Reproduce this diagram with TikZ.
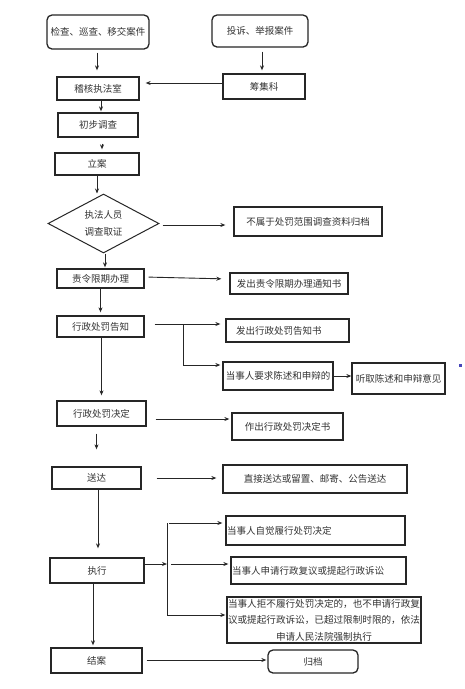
\documentclass[tikz,border=0pt]{standalone}
\usepackage{fontspec}
\newfontfamily\cjk{Noto Sans CJK SC}
\usetikzlibrary{arrows.meta,shapes.geometric,calc}
\begin{document}
\begin{tikzpicture}[x=1pt,y=-1pt,
 box/.style={draw=black!85,line width=1.3pt,inner sep=1pt,font=\cjk\fontsize{9.5}{11}\selectfont,text=black!80},
 rbox/.style={box,rounded corners=5pt},
 dia/.style={diamond,draw=black!85,line width=1pt,inner sep=0pt,aspect=1.88,align=center,font=\cjk\fontsize{9.5}{17}\selectfont,text=black!80},
 arr/.style={draw=black!85,line width=0.9pt,-{Stealth[length=5pt,width=4pt]}},
 ln/.style={draw=black!85,line width=0.9pt}]
\fill[white] (0,0) rectangle (464,689);
\useasboundingbox (0,0) rectangle (464,689);

\node[rbox,minimum width=102pt,minimum height=34pt] (A) at (98,32) {检查、巡查、移交案件};
\node[rbox,minimum width=96pt,minimum height=32pt] (B) at (260,31) {投诉、举报案件};
\node[box,minimum width=82pt,minimum height=23pt] (C) at (98,88.5) {稽核执法室};
\node[box,minimum width=82pt,minimum height=25pt] (D) at (264,86.5) {筹集科};
\node[box,minimum width=80pt,minimum height=24pt] (E) at (98,125) {初步调查};
\node[box,minimum width=84pt,minimum height=22pt] (F) at (97,164) {立案};
\node[dia,minimum width=111pt,minimum height=59pt] (Dm) at (103.5,223.5) {执法人员\\调查取证};
\node[box,minimum width=148pt,minimum height=29pt] (G) at (308,221.5) {不属于处罚范围调查资料归档};
\node[box,minimum width=87pt,minimum height=19pt] (H) at (100.5,278.5) {责令限期办理};
\node[box,minimum width=118pt,minimum height=21pt] (I) at (289,283.5) {发出责令限期办理通知书};
\node[box,minimum width=87pt,minimum height=21pt] (J) at (100.5,326.5) {行政处罚告知};
\node[box,minimum width=123pt,minimum height=23pt,text width=103pt,align=left] (K) at (287.5,330.5) {发出行政处罚告知书};
\node[box,minimum width=110pt,minimum height=28pt] (L) at (278,376) {当事人要求陈述和申辩的};
\node[box,minimum width=93pt,minimum height=31pt] (M) at (398.5,378.5) {听取陈述和申辩意见};
\node[box,minimum width=89pt,minimum height=25pt] (N) at (101.5,413.5) {行政处罚决定};
\node[box,minimum width=111pt,minimum height=27pt] (O) at (287.5,426.5) {作出行政处罚决定书};
\node[box,minimum width=89pt,minimum height=22pt] (P) at (96.5,478) {送达};
\node[box,minimum width=184pt,minimum height=28pt] (Q) at (315,479) {直接送达或留置、邮寄、公告送达};
\node[box,minimum width=179pt,minimum height=29pt,text width=177pt,align=left] (S) at (315.5,530.5) {当事人自觉履行处罚决定};
\node[box,minimum width=94pt,minimum height=25pt] (R) at (97,570.5) {执行};
\node[box,minimum width=175pt,minimum height=27pt,text width=173pt,align=left] (T) at (318.5,570.5) {当事人申请行政复议或提起行政诉讼};
\node[box,minimum width=194pt,minimum height=46pt,text width=193pt,inner sep=0.5pt,align=center,font=\cjk\fontsize{9.6}{16.5}\selectfont] (U) at (324,620) {当事人拒不履行处罚决定的，也不申请行政复\\议或提起行政诉讼，已超过限制时限的，依法\\申请人民法院强制执行};
\node[box,minimum width=91pt,minimum height=25pt] (V) at (96.5,660.5) {结案};
\node[rbox,minimum width=90pt,minimum height=23pt] (W) at (313,661.5) {归档};

\fill[blue!45!gray] (459,363.5) rectangle (462,366.5);

\draw[arr,shorten <=3pt,shorten >=6pt] ([xshift=-1pt]A.south) -- ([xshift=-1pt]A.south |- C.north);
\draw[arr,shorten <=4pt,shorten >=3pt] ([xshift=2pt]B.south) -- ([xshift=2pt]B.south |- D.north);
\draw[arr,shorten >=6pt] ([yshift=3.5pt]D.west) -- ([yshift=3.5pt]D.west -| C.east);
\draw[arr,shorten >=1pt] ([xshift=3pt]C.south) -- ([xshift=3pt]C.south |- E.north);
\draw[arr,shorten <=6pt,shorten >=3pt] ([xshift=4pt]E.south) -- ([xshift=4pt]E.south |- F.north);
\draw[arr] (F.south) -- (F.south |- Dm.north);
\draw[arr,shorten <=3pt,shorten >=8pt] ([yshift=-1.5pt]Dm.east) -- ([yshift=-1.5pt]Dm.east -| G.west);
\draw[arr,shorten >=1pt] ([xshift=1.5pt]Dm.south) -- ([xshift=1.5pt]Dm.south |- H.north);
\draw[arr,shorten <=4pt,shorten >=8pt] ([yshift=1.5pt]H.east) -- ([yshift=4.5pt]I.west);
\draw[arr,shorten >=3pt] (H.south) -- (H.south |- J.north);
\coordinate (jk) at ([xshift=10pt,yshift=2.5pt]J.east);
\draw[arr,shorten >=5pt] (jk) -- (jk -| K.west);
\coordinate (br1) at ([xshift=39pt,yshift=2.5pt]J.east);
\draw[arr,shorten >=2pt] (br1) |- ([yshift=11pt]L.west);
\draw[arr] (L.east) -- (L.east -| M.west);
\draw[arr,shorten >=5pt] ([xshift=1pt]J.south) -- ([xshift=1pt]J.south |- N.north);
\coordinate (no) at ([xshift=9pt,yshift=-5.5pt]N.east);
\draw[arr,shorten >=2pt] (no) -- (no -| O.west);
\draw[arr,shorten <=7pt,shorten >=17pt] (N.south -| P.north) -- (P.north);
\draw[arr,shorten <=15pt,shorten >=6pt] (P.east) -- (P.east -| Q.west);
\draw[arr,shorten >=9pt] ([xshift=1.5pt]P.south) -- ([xshift=1.5pt]P.south |- R.north);
\coordinate (bt) at (167,523);
\coordinate (bb) at (167,615);
\draw[ln] (bt) -- (bb);
\coordinate (rb) at ([yshift=6.5pt]R.east);
\draw[arr] (rb) -- (rb -| bt);
\draw[arr,shorten <=2pt,shorten >=3pt] (bt) -- (bt -| S.west);
\draw[arr,shorten <=4pt,shorten >=2pt] (rb -| bt) -- (rb -| T.west);
\draw[arr,shorten >=1pt] (bb) -- (bb -| U.west);
\draw[arr,shorten >=2pt] ([xshift=-4pt]R.south) -- ([xshift=-4pt]R.south |- V.north);
\draw[arr,shorten <=4pt,shorten >=1pt] ([yshift=0.5pt]V.east) -- ([yshift=0.5pt]V.east -| W.west);
\end{tikzpicture}
\end{document}
